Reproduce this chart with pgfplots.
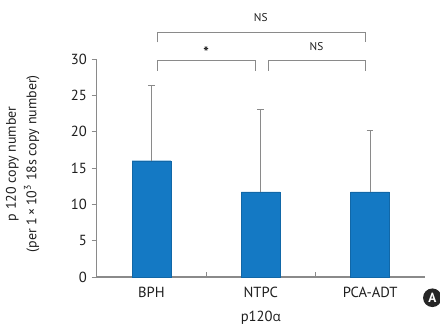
\documentclass[border=0pt]{standalone}
\usepackage{pgfplots}
\pgfplotsset{compat=1.18}
\usepackage{fontspec}
\setmainfont{PT Sans}
\newfontfamily\greekfont{Open Sans}
\definecolor{barblue}{HTML}{1479C4}
\definecolor{axgray}{HTML}{8A8A8A}
\definecolor{txt}{HTML}{1E1E1E}
\begin{document}
\begin{tikzpicture}[x=1pt,y=1pt]
\begin{axis}[
  scale only axis,
  width=246.75pt, height=164pt,
  xmin=-0.5, xmax=2.5, ymin=0, ymax=30,
  axis x line*=bottom, axis y line*=left,
  axis line style={axgray, line width=0.8pt},
  xtick={0,1,2}, xticklabels={BPH,NTPC,PCA-ADT},
  major x tick style={draw=none},
  minor xtick={0.5,1.5},
  minor x tick style={axgray, line width=0.6pt},
  minor tick length=4pt,
  xtick align=inside,
  ytick={0,5,10,15,20,25,30},
  ytick align=outside, ytick pos=left,
  major y tick style={axgray, line width=0.6pt},
  major tick length=4pt,
  tick label style={font=\fontsize{11}{13}\selectfont, text=txt},
  /pgf/number format/assume math mode=true,
  xticklabel style={yshift=-4pt},
  xlabel={p120{\greekfont\fontsize{10}{12}\selectfont α}},
  xlabel style={font=\fontsize{11}{13}\selectfont, text=txt, yshift=-3pt},
  ylabel={\shortstack{p 120 copy number\\[1pt](per 1\,×\,10\textsuperscript{3} 18s copy number)}},
  ylabel style={font=\fontsize{10.5}{12}\selectfont, text=txt, at={(axis description cs:-0.161,0.52)}, anchor=south},
  clip=false,
]
\addplot[ybar, bar width=29.25pt, fill=barblue, draw=barblue!85!black, line width=0.3pt,
  error bars/.cd, y dir=plus, y explicit,
  error bar style={axgray, line width=0.8pt},
  error mark options={axgray, line width=0.8pt, mark size=2.5pt, rotate=90}]
  coordinates {(0,16.0) +- (0,10.4) (1,11.7) +- (0,11.3) (2,11.7) +- (0,8.5)};
% significance brackets
\draw[axgray, line width=0.8pt] (axis cs:0.057,32.3) |- (axis cs:1.96,33.7) -- (axis cs:1.96,32.3);
\node[font=\fontsize{8.5}{10}\selectfont, text=txt] at (axis cs:1.0,35.7) {NS};
\draw[axgray, line width=0.8pt] (axis cs:0.057,28.4) |- (axis cs:0.953,29.8) -- (axis cs:0.953,28.4);
\node[font=\bfseries\fontsize{11}{12}\selectfont, text=txt] at (axis cs:0.5,30.9) {*};
\draw[axgray, line width=0.8pt] (axis cs:1.069,28.4) |- (axis cs:1.96,29.8) -- (axis cs:1.96,28.4);
\node[font=\fontsize{8.5}{10}\selectfont, text=txt] at (axis cs:1.51,31.7) {NS};
% badge
\fill[black!85] (axis cs:2.57,-2.86) circle (7pt);
\node[font=\bfseries\fontsize{10}{11}\selectfont, text=white] at (axis cs:2.57,-2.86) {A};
\coordinate (bl) at (axis cs:-1.386,-7.54);
\coordinate (tr) at (axis cs:2.640,38.13);
\end{axis}
\pgfresetboundingbox
\path[use as bounding box] (bl) rectangle (tr);
\end{tikzpicture}
\end{document}
